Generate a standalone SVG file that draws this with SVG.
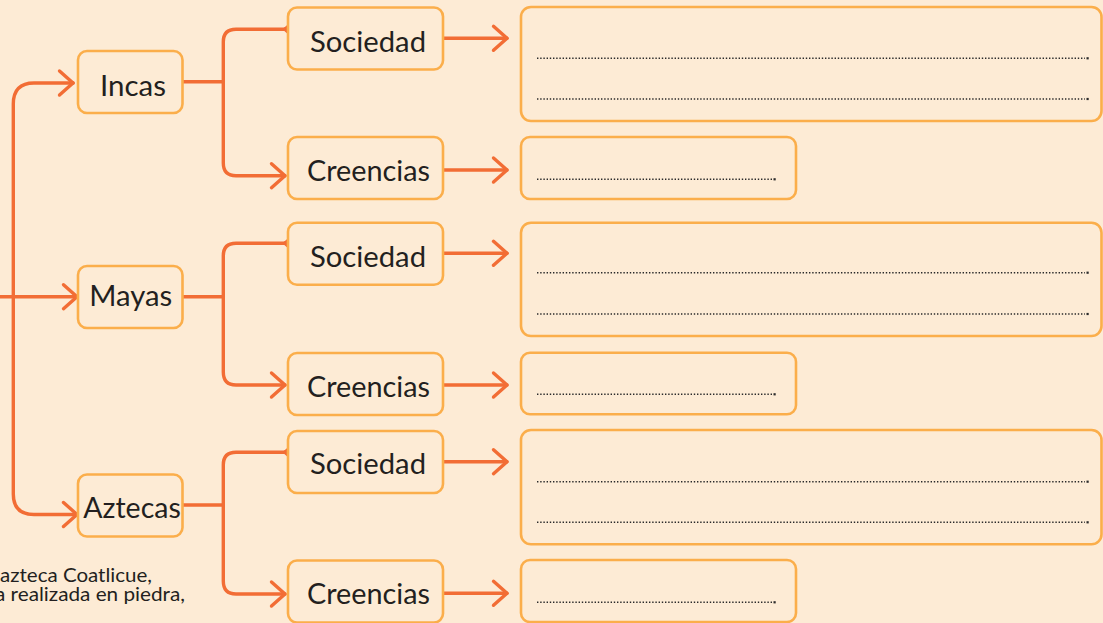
<svg xmlns="http://www.w3.org/2000/svg" width="1103" height="623" viewBox="0 0 1103 623">
<defs>
<style>
.bg{fill:#FDEBD5}
.box{fill:#FDEBD5;stroke:#FBAE4B;stroke-width:2.6}
.lbl{font-family:Lato,"Open Sans","Liberation Sans",sans-serif;font-size:28px;fill:#231F20;text-anchor:start}
.cap{font-family:Lato,"Open Sans","Liberation Sans",sans-serif;font-size:20px;fill:#231F20}
.con{fill:none;stroke:#F26D35;stroke-width:3.4;stroke-linecap:round;stroke-linejoin:round}
.dots{fill:none;stroke:#2a2a2a;stroke-width:1.6;stroke-dasharray:1.4 1.8}
.end{fill:#2a2a2a}
</style>
<marker id="chev" markerUnits="userSpaceOnUse" viewBox="-17 -15 20 30" markerWidth="20" markerHeight="30" refX="0" refY="0" orient="auto">
<path d="M-13.5,-12 L0,0 L-13.5,12" fill="none" stroke="#F26D35" stroke-width="3.4" stroke-linecap="round" stroke-linejoin="round"/>
</marker>
</defs>
<rect class="bg" x="0" y="0" width="1103" height="623"/>

<g id="connectors">
<path class="con" d="M73,83 L34,83 Q13.3,83 13.3,104 L13.3,494 Q13.3,514.5 34,514.5 L77,514.5" marker-end="url(#chev)"/>
<path class="con" d="M73,83 L73,83" marker-end="url(#chev)"/>
<path class="con" d="M0,296.7 L77,296.7" marker-end="url(#chev)"/>
<path class="con" d="M183,81.7 L223.3,81.7"/>
<path class="con" d="M285,29.3 L236,29.3 Q223.3,29.3 223.3,42 L223.3,163 Q223.3,175.7 236,175.7 L285,175.7" marker-end="url(#chev)"/>
<path class="con" d="M285,29.3 L284.9,29.3" marker-end="url(#chev)"/>
<path class="con" d="M183,296.7 L223.3,296.7"/>
<path class="con" d="M285,243.3 L236,243.3 Q223.3,243.3 223.3,256 L223.3,372 Q223.3,385 236,385 L285,385" marker-end="url(#chev)"/>
<path class="con" d="M285,243.3 L284.9,243.3" marker-end="url(#chev)"/>
<path class="con" d="M183,505 L223.3,505"/>
<path class="con" d="M285,452.3 L236,452.3 Q223.3,452.3 223.3,465 L223.3,581 Q223.3,594 236,594 L285,594" marker-end="url(#chev)"/>
<path class="con" d="M285,452.3 L284.9,452.3" marker-end="url(#chev)"/>
<path class="con" d="M444,38.3 L507,38.3" marker-end="url(#chev)"/>
<path class="con" d="M444,170 L507,170" marker-end="url(#chev)"/>
<path class="con" d="M444,253.3 L507,253.3" marker-end="url(#chev)"/>
<path class="con" d="M444,385 L507,385" marker-end="url(#chev)"/>
<path class="con" d="M444,461.7 L507,461.7" marker-end="url(#chev)"/>
<path class="con" d="M444,593.3 L507,593.3" marker-end="url(#chev)"/>
</g>

<g id="incas">
<rect class="box" x="78" y="51" width="104.5" height="62" rx="9"/>
<text class="lbl" x="100" y="95.5" textLength="66" lengthAdjust="spacingAndGlyphs">Incas</text>
</g>
<g id="mayas">
<rect class="box" x="78" y="266" width="104.5" height="62" rx="9"/>
<text class="lbl" x="89.3" y="306" textLength="83" lengthAdjust="spacingAndGlyphs">Mayas</text>
</g>
<g id="aztecas">
<rect class="box" x="78" y="474.5" width="104.5" height="62" rx="9"/>
<text class="lbl" x="83.3" y="517.7" textLength="97.5" lengthAdjust="spacingAndGlyphs">Aztecas</text>
</g>

<g id="incas-sociedad">
<rect class="box" x="288" y="7.5" width="155" height="62" rx="9"/>
<text class="lbl" x="310" y="51.7" textLength="116" lengthAdjust="spacingAndGlyphs">Sociedad</text>
</g>
<g id="incas-creencias">
<rect class="box" x="288" y="137" width="155" height="62" rx="9"/>
<text class="lbl" x="307" y="181" textLength="123" lengthAdjust="spacingAndGlyphs">Creencias</text>
</g>
<g id="mayas-sociedad">
<rect class="box" x="288" y="222.7" width="155" height="62" rx="9"/>
<text class="lbl" x="310" y="267" textLength="116" lengthAdjust="spacingAndGlyphs">Sociedad</text>
</g>
<g id="mayas-creencias">
<rect class="box" x="288" y="353" width="155" height="62" rx="9"/>
<text class="lbl" x="307" y="397" textLength="123" lengthAdjust="spacingAndGlyphs">Creencias</text>
</g>
<g id="aztecas-sociedad">
<rect class="box" x="288" y="431" width="155" height="62" rx="9"/>
<text class="lbl" x="310" y="474" textLength="116" lengthAdjust="spacingAndGlyphs">Sociedad</text>
</g>
<g id="aztecas-creencias">
<rect class="box" x="288" y="560.5" width="155" height="62" rx="9"/>
<text class="lbl" x="307" y="603.5" textLength="123" lengthAdjust="spacingAndGlyphs">Creencias</text>
</g>

<g id="incas-sociedad-answer">
<rect class="box" x="521" y="7" width="580.5" height="114" rx="10"/>
<line class="dots" x1="537" y1="58.3" x2="1085" y2="58.3"/><rect class="end" x="1086.5" y="57.2" width="2.2" height="2.2"/>
<line class="dots" x1="537" y1="99" x2="1085" y2="99"/><rect class="end" x="1086.5" y="97.9" width="2.2" height="2.2"/>
</g>
<g id="incas-creencias-answer">
<rect class="box" x="521" y="137" width="275" height="62" rx="9"/>
<line class="dots" x1="537" y1="179.3" x2="773" y2="179.3"/><rect class="end" x="773.5" y="178.2" width="2.2" height="2.2"/>
</g>
<g id="mayas-sociedad-answer">
<rect class="box" x="521" y="222.7" width="580.5" height="113.3" rx="10"/>
<line class="dots" x1="537" y1="272.7" x2="1085" y2="272.7"/><rect class="end" x="1086.5" y="271.6" width="2.2" height="2.2"/>
<line class="dots" x1="537" y1="314" x2="1085" y2="314"/><rect class="end" x="1086.5" y="312.9" width="2.2" height="2.2"/>
</g>
<g id="mayas-creencias-answer">
<rect class="box" x="521" y="352.7" width="275" height="61.5" rx="9"/>
<line class="dots" x1="537" y1="394.3" x2="773" y2="394.3"/><rect class="end" x="773.5" y="393.2" width="2.2" height="2.2"/>
</g>
<g id="aztecas-sociedad-answer">
<rect class="box" x="521" y="430" width="580.5" height="114.3" rx="10"/>
<line class="dots" x1="537" y1="481.7" x2="1085" y2="481.7"/><rect class="end" x="1086.5" y="480.6" width="2.2" height="2.2"/>
<line class="dots" x1="537" y1="522.3" x2="1085" y2="522.3"/><rect class="end" x="1086.5" y="521.2" width="2.2" height="2.2"/>
</g>
<g id="aztecas-creencias-answer">
<rect class="box" x="521" y="560" width="275" height="62" rx="9"/>
<line class="dots" x1="537" y1="602.3" x2="773" y2="602.3"/><rect class="end" x="773.5" y="601.2" width="2.2" height="2.2"/>
</g>

<g id="caption">
<text class="cap" x="0" y="581.7" textLength="152" lengthAdjust="spacingAndGlyphs">azteca Coatlicue,</text>
<text class="cap" x="-5" y="600.5" textLength="190" lengthAdjust="spacingAndGlyphs">a realizada en piedra,</text>
</g>
</svg>
